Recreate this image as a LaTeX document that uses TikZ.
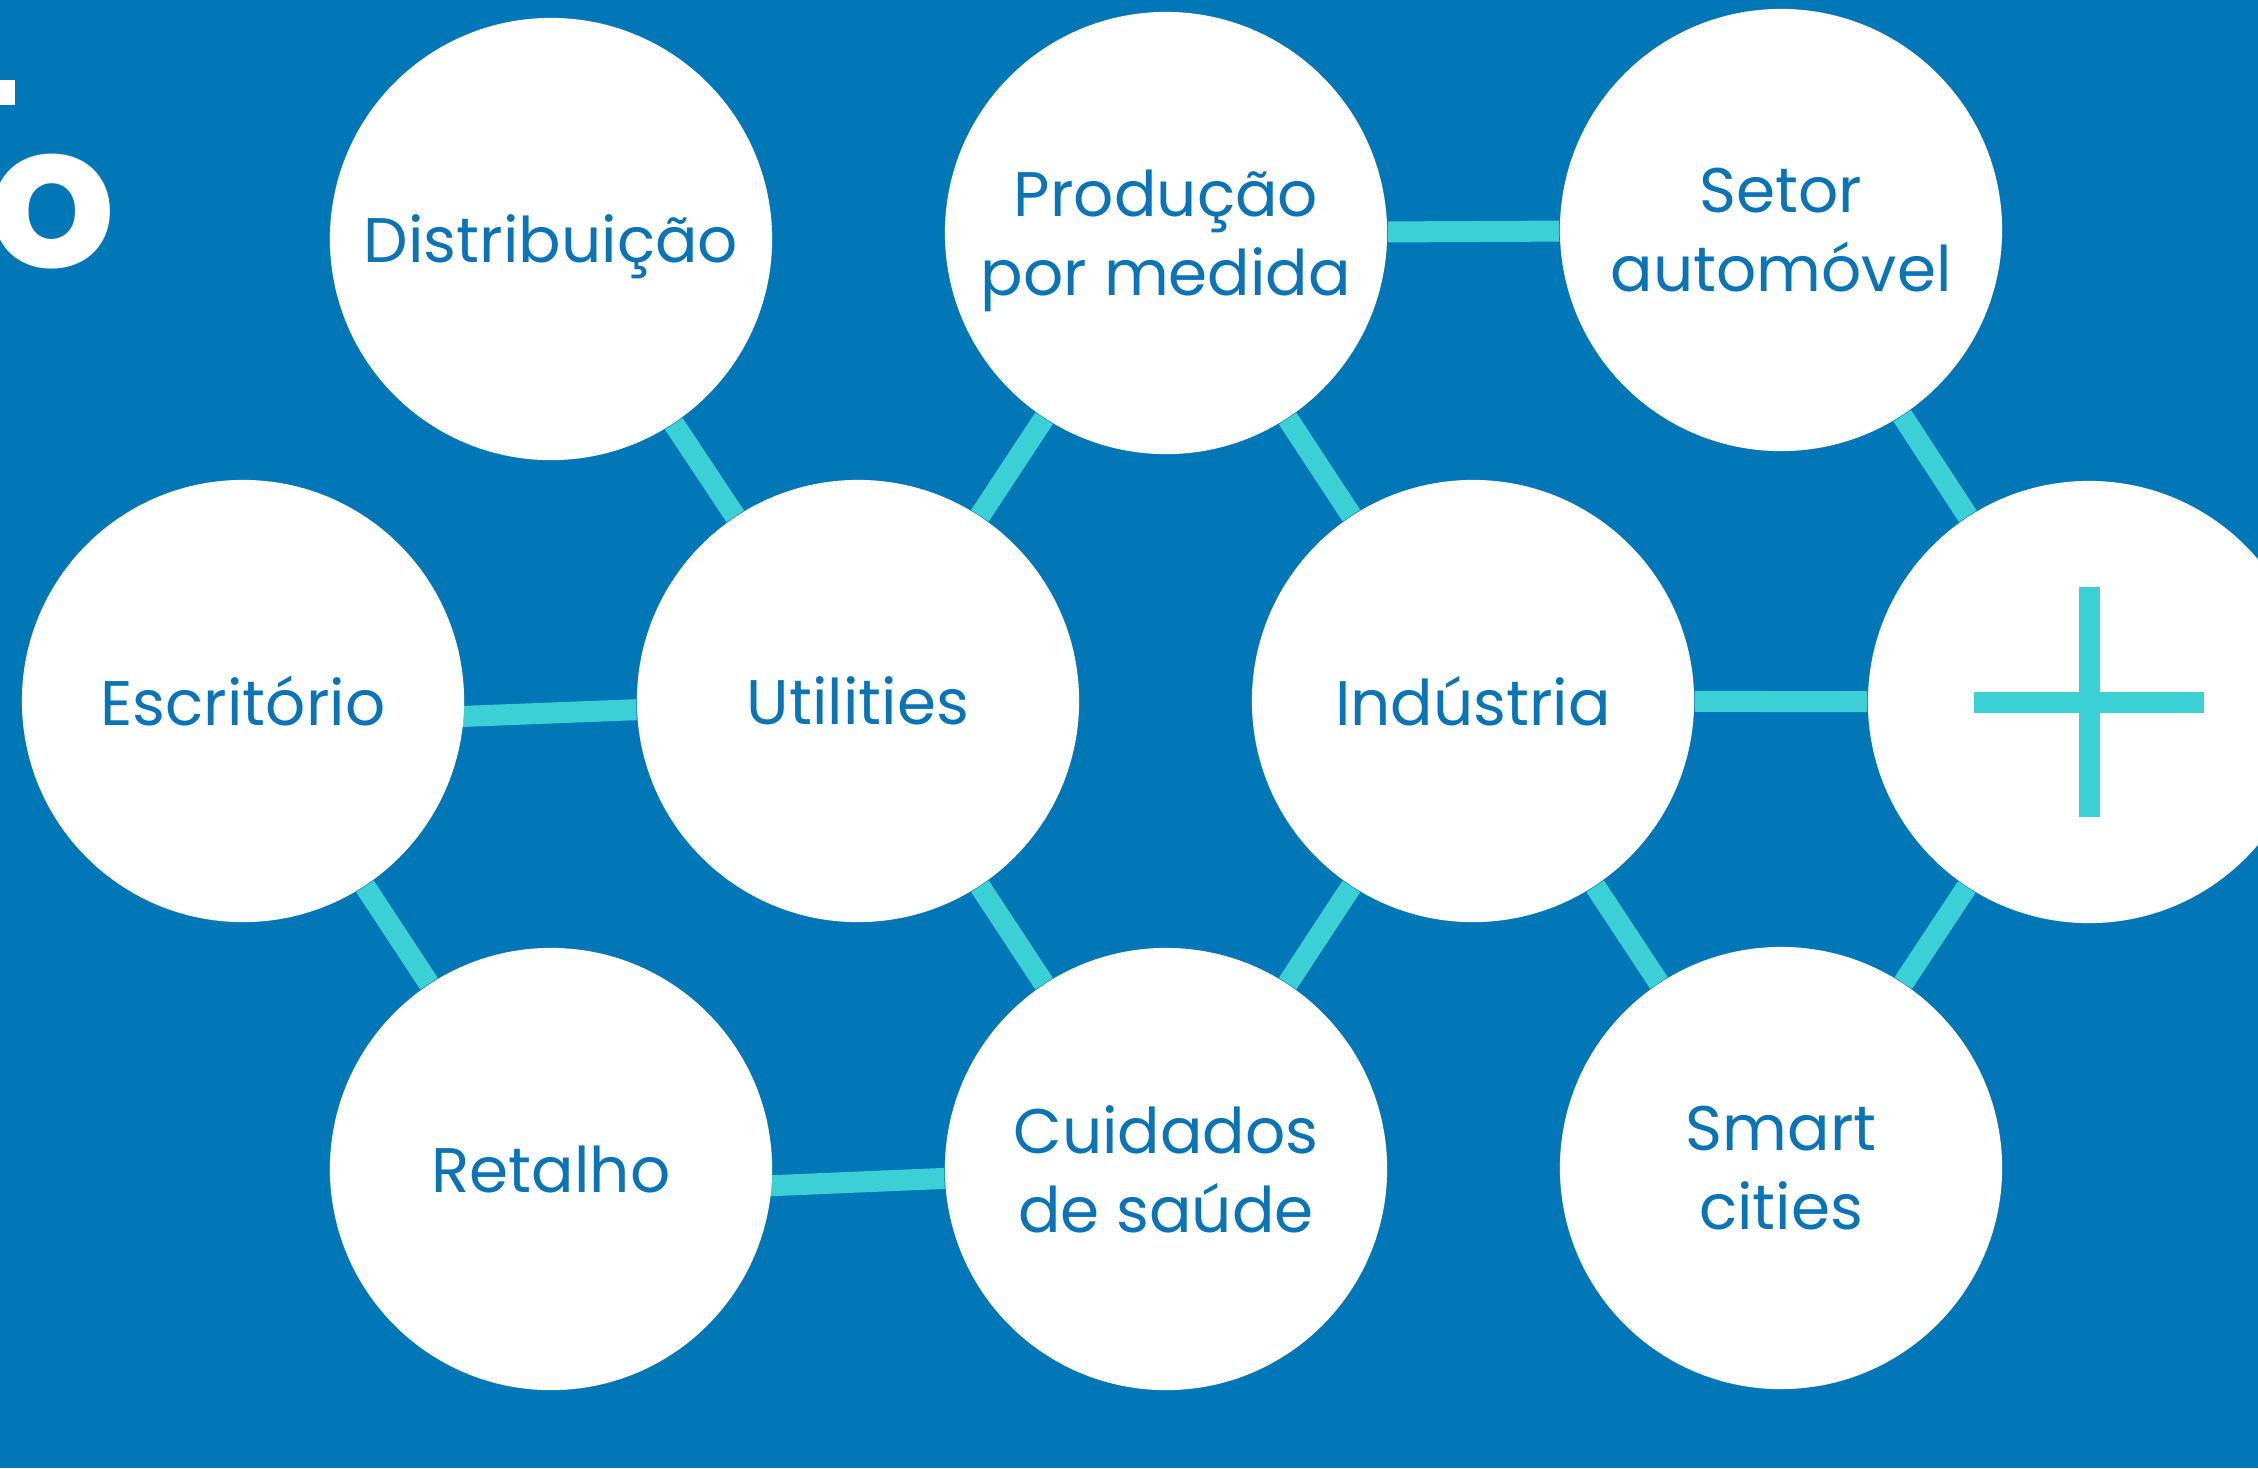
\documentclass[tikz,border=0pt]{standalone}
\usepackage{fontspec}
\setmainfont{Poppins}
\usepackage{xcolor}
\usepackage{tikz}
\usetikzlibrary{positioning, calc, backgrounds}
\definecolor{fundo}{HTML}{0277B7}
\definecolor{ciano}{HTML}{3BD0D5}
\definecolor{texto}{HTML}{0A74B6}

\begin{document}
\begin{tikzpicture}[x=0.01cm, y=-0.01cm,
    sector/.style={circle, fill=white, inner sep=0pt, minimum size=4.42cm, text depth=0pt,
        align=center, text=texto, font=\fontsize{17.9}{22.5}\selectfont},
    link/.style={ciano, line width=0.21cm}]

    \useasboundingbox (0,0) rectangle (2258,1468);

    % Circles of sectors
    \foreach \n/\x/\y/\t in {dist/551/239/{Distribuição}, prod/1166/233/{Produção\\por medida},
        setor/1781/230/{Setor\\automóvel}, escr/243/701/{Escritório}, util/858/701/{Utilities},
        indu/1473/701/{Indústria}, mais/2089/702/{}, reta/551/1169/{Retalho},
        cuid/1166/1169/{Cuidados\\de saúde}, smart/1781/1168/{Smart\\cities}} {
        \node[sector] (\n) at (\x,\y) {\t};
    }

    % Plus sign
    \draw[link] ([xshift=-1.15cm]mais.center) -- ([xshift=1.15cm]mais.center);
    \draw[link] ([yshift=-1.15cm]mais.center) -- ([yshift=1.15cm]mais.center);

    % Title cut at the edge
    \node[anchor=base east, inner sep=0pt, text=white, font=\fontsize{57}{68}\selectfont\bfseries] (titulo) at (117,267) {ção};
    \fill[white] (-5,80) rectangle (15,105);

    % Links behind the circles
    \begin{pgfonlayer}{background}
        \fill[fundo] (0,0) rectangle (2258,1468);
        \foreach \a/\b in {dist/util, prod/util, prod/indu, prod/setor, setor/mais, escr/reta,
            util/cuid, cuid/indu, indu/mais, indu/smart, smart/mais} {
            \draw[link] (\a) -- (\b);
        }
        \draw[link] ($(escr)+(0,24)$) -- (util);
        \draw[link] ($(reta)+(0,26)$) -- (cuid);
    \end{pgfonlayer}
\end{tikzpicture}
\end{document}
